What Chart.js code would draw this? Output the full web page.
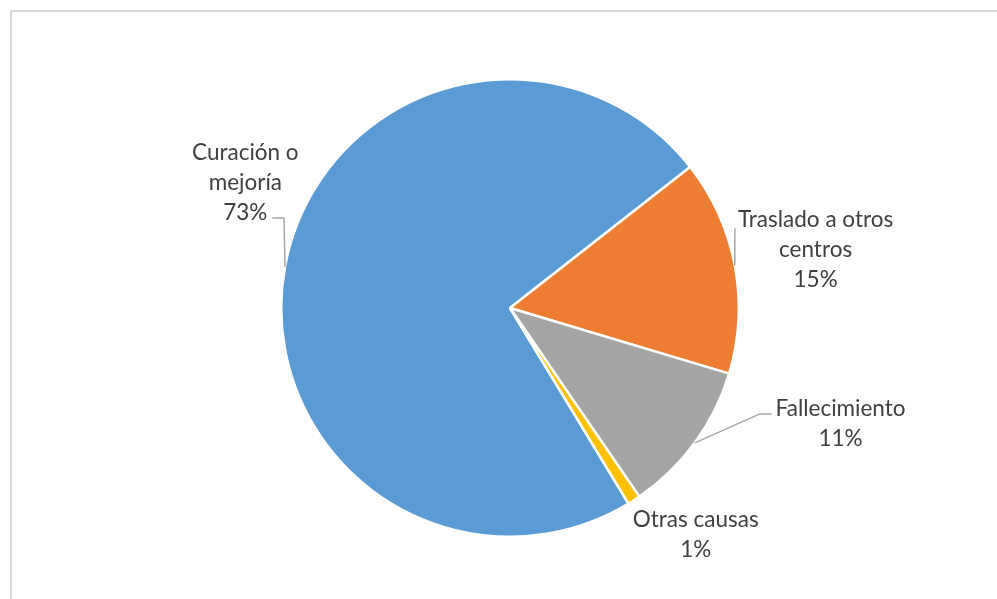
<!DOCTYPE html>
<html>
<head>
<meta charset="utf-8">
<script src="https://cdn.jsdelivr.net/npm/chart.js@4.4.1/dist/chart.umd.min.js"></script>
<style>
  html, body { margin: 0; padding: 0; background: #ffffff; overflow: hidden; }
  #wrap { position: relative; width: 997px; height: 599px; }
  #frame { position: absolute; left: 10px; top: 10px; width: 1000px; height: 600px;
           border-left: 2px solid #d9d9d9; border-top: 2px solid #d9d9d9; box-sizing: border-box; }
  canvas { position: absolute; left: 0; top: 0; }
</style>
</head>
<body>
<div id="wrap">
  <div id="frame"></div>
  <canvas id="c" width="997" height="599"></canvas>
</div>
<script>
const categories = ['Curación o mejoría', 'Traslado a otros centros', 'Fallecimiento', 'Otras causas'];
const labelLines = [['Curación o', 'mejoría'], ['Traslado a otros', 'centros'], ['Fallecimiento'], ['Otras causas']];
const values = [73.1, 15.2, 10.8, 0.9];
const colors = ['#5B9BD5', '#ED7D31', '#A5A5A5', '#FFC000'];

// label layout in units of the pie radius, relative to the pie centre
const labelLayout = [
  { cx: -1.157, y0: -0.677, leader: [[-0.988, -0.393], [-1.039, -0.393]] },
  { cx: 1.336, y0: -0.384, leader: [[0.983, -0.349]] },
  { cx: 1.445, y0: 0.441, leader: [[1.092, 0.463], [1.144, 0.463]] },
  { cx: 0.812, y0: 0.926, leader: null }
];

const labelPlugin = {
  id: 'outLabels',
  afterDatasetsDraw(chart) {
    const ctx = chart.ctx;
    const meta = chart.getDatasetMeta(0);
    const data = chart.data.datasets[0].data;
    const total = data.reduce((a, b) => a + b, 0);
    ctx.save();
    meta.data.forEach((arc, i) => {
      const p = arc.getProps(['x', 'y', 'startAngle', 'endAngle', 'outerRadius'], true);
      const r = p.outerRadius;
      const mid = (p.startAngle + p.endAngle) / 2;
      const ax = p.x + Math.cos(mid) * r;
      const ay = p.y + Math.sin(mid) * r;
      const lay = labelLayout[i];
      if (lay.leader) {
        ctx.beginPath();
        ctx.strokeStyle = '#a6a6a6';
        ctx.lineWidth = 1.5;
        ctx.moveTo(ax, ay);
        lay.leader.forEach(pt => ctx.lineTo(p.x + pt[0] * r, p.y + pt[1] * r));
        ctx.stroke();
      }
      const lines = labelLines[i].concat([Math.round(data[i] / total * 100) + '%']);
      ctx.fillStyle = '#404040';
      ctx.font = '22.5px Lato, "Open Sans", sans-serif';
      ctx.textAlign = 'center';
      ctx.textBaseline = 'middle';
      const x = p.x + lay.cx * r;
      const y0 = p.y + lay.y0 * r;
      lines.forEach((t, k) => ctx.fillText(t, x, y0 + k * 30));
    });
    ctx.restore();
  }
};

new Chart(document.getElementById('c'), {
  type: 'pie',
  data: {
    labels: categories,
    datasets: [{
      data: values,
      backgroundColor: colors,
      borderColor: '#ffffff',
      borderWidth: 2.5
    }]
  },
  options: {
    responsive: false,
    animation: false,
    rotation: 148.8,
    layout: { padding: { left: 280, right: 257, top: 78, bottom: 61 } },
    plugins: { legend: { display: false }, tooltip: { enabled: false } }
  },
  plugins: [labelPlugin]
});
</script>
</body>
</html>
